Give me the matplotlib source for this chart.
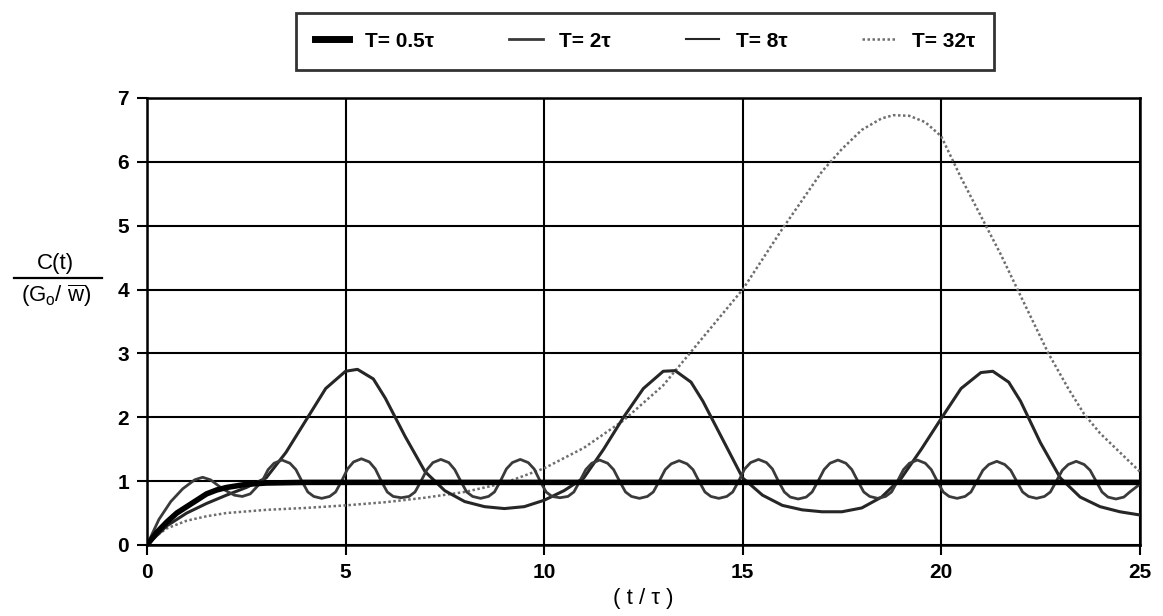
import matplotlib
matplotlib.use("Agg")
import matplotlib.pyplot as plt
from matplotlib.lines import Line2D

plt.rcParams['font.family'] = ['Liberation Sans', 'DejaVu Sans']
plt.rcParams['mathtext.fontset'] = 'custom'
plt.rcParams['mathtext.rm'] = 'Liberation Sans'
plt.rcParams['mathtext.it'] = 'Liberation Sans'

# T = 0.5 tau
t_05 = [0, 0.25, 0.5, 0.75, 1.0, 1.25, 1.5, 1.75, 2.0, 2.5, 3.0, 4.0, 25.0]
c_05 = [0, 0.2, 0.36, 0.5, 0.6, 0.7, 0.8, 0.86, 0.9, 0.95, 0.97, 0.98, 0.98]

# T = 2 tau (small wiggles)
t_2 = [0, 0.3, 0.6, 0.9, 1.2, 1.4, 1.6, 1.9, 2.2, 2.4, 2.6,
       2.9, 3.05, 3.2, 3.4, 3.6, 3.75, 3.9, 4.05, 4.2, 4.4, 4.6, 4.75,
       4.9, 5.05, 5.2, 5.4, 5.6, 5.75, 5.9, 6.05, 6.2, 6.4, 6.6, 6.75,
       6.9, 7.05, 7.2, 7.4, 7.6, 7.75, 7.9, 8.05, 8.2, 8.4, 8.6, 8.75,
       8.9, 9.05, 9.2, 9.4, 9.6, 9.75, 9.9, 10.05, 10.2, 10.4, 10.6, 10.75,
       10.9, 11.05, 11.2, 11.4, 11.6, 11.75, 11.9, 12.05, 12.2, 12.4, 12.6, 12.75,
       12.9, 13.05, 13.2, 13.4, 13.6, 13.75, 13.9, 14.05, 14.2, 14.4, 14.6, 14.75,
       14.9, 15.05, 15.2, 15.4, 15.6, 15.75, 15.9, 16.05, 16.2, 16.4, 16.6, 16.75,
       16.9, 17.05, 17.2, 17.4, 17.6, 17.75, 17.9, 18.05, 18.2, 18.4, 18.6, 18.75,
       18.9, 19.05, 19.2, 19.4, 19.6, 19.75, 19.9, 20.05, 20.2, 20.4, 20.6, 20.75,
       20.9, 21.05, 21.2, 21.4, 21.6, 21.75, 21.9, 22.05, 22.2, 22.4, 22.6, 22.75,
       22.9, 23.05, 23.2, 23.4, 23.6, 23.75, 23.9, 24.05, 24.2, 24.4, 24.6, 24.75,
       25.0]
c_2 = [0, 0.4, 0.68, 0.88, 1.02, 1.06, 1.02, 0.88, 0.78, 0.76, 0.8,
       1.0, 1.18, 1.28, 1.33, 1.28, 1.18, 1.0, 0.83, 0.76, 0.73, 0.76, 0.83,
       1.0, 1.19, 1.3, 1.35, 1.3, 1.19, 1.0, 0.83, 0.76, 0.74, 0.76, 0.83,
       1.0, 1.18, 1.29, 1.34, 1.29, 1.18, 1.0, 0.83, 0.76, 0.73, 0.76, 0.83,
       1.0, 1.19, 1.29, 1.34, 1.29, 1.19, 1.0, 0.83, 0.76, 0.74, 0.76, 0.83,
       1.0, 1.18, 1.28, 1.33, 1.28, 1.18, 1.0, 0.83, 0.76, 0.73, 0.76, 0.83,
       1.0, 1.18, 1.27, 1.32, 1.27, 1.18, 1.0, 0.83, 0.76, 0.73, 0.76, 0.83,
       1.0, 1.19, 1.29, 1.34, 1.29, 1.19, 1.0, 0.83, 0.75, 0.72, 0.75, 0.83,
       1.0, 1.18, 1.28, 1.33, 1.28, 1.18, 1.0, 0.83, 0.76, 0.73, 0.76, 0.83,
       1.0, 1.18, 1.28, 1.33, 1.28, 1.18, 1.0, 0.83, 0.76, 0.73, 0.76, 0.83,
       1.0, 1.17, 1.26, 1.31, 1.26, 1.17, 1.0, 0.83, 0.76, 0.73, 0.76, 0.83,
       1.0, 1.17, 1.26, 1.31, 1.26, 1.17, 1.0, 0.83, 0.75, 0.72, 0.75, 0.83,
       0.95]

# T = 8 tau (large peaks)
t_8 = [0, 0.5, 1, 1.5, 2, 2.5, 3, 3.5, 4, 4.5, 5, 5.3, 5.7, 6, 6.5, 7, 7.5,
       8, 8.5, 9, 9.5, 10, 10.5, 11, 11.5, 12, 12.5, 13, 13.3, 13.7, 14, 14.5,
       15, 15.5, 16, 16.5, 17, 17.5, 18, 18.5, 19, 19.5, 20, 20.5, 21, 21.3,
       21.7, 22, 22.5, 23, 23.5, 24, 24.5, 25]
c_8 = [0, 0.3, 0.5, 0.65, 0.78, 0.9, 1.05, 1.45, 1.95, 2.45, 2.72, 2.75, 2.6,
       2.3, 1.7, 1.15, 0.85, 0.68, 0.6, 0.57, 0.6, 0.7, 0.85, 1.05, 1.5, 2.0,
       2.45, 2.72, 2.73, 2.55, 2.25, 1.65, 1.05, 0.78, 0.62, 0.55, 0.52, 0.52,
       0.58, 0.75, 1.05, 1.5, 1.98, 2.45, 2.7, 2.72, 2.55, 2.25, 1.6, 1.05,
       0.75, 0.6, 0.52, 0.47]

# T = 32 tau (slow hump)
t_32 = [0, 0.25, 0.5, 1, 1.5, 2, 3, 4, 5, 6, 7, 8, 9, 10, 11, 12, 13, 13.6,
        14, 15, 16, 17, 17.5, 18, 18.5, 18.8, 19.2, 19.6, 20, 20.5, 21, 21.5,
        22, 22.7, 23.2, 23.6, 24, 24.5, 25]
c_32 = [0, 0.15, 0.26, 0.38, 0.45, 0.5, 0.55, 0.58, 0.62, 0.67, 0.74, 0.83,
        0.97, 1.2, 1.52, 1.95, 2.5, 2.95, 3.25, 4.0, 4.95, 5.85, 6.2, 6.5,
        6.68, 6.73, 6.72, 6.62, 6.4, 5.75, 5.15, 4.55, 3.9, 3.0, 2.45, 2.05,
        1.75, 1.45, 1.15]

labels = ['T= 0.5τ', 'T= 2τ', 'T= 8τ', 'T= 32τ']

fig = plt.figure(figsize=(11.63, 6.16), dpi=100)
ax = fig.add_axes([0.1264, 0.1153, 0.8536, 0.7257])

ax.plot(t_32, c_32, color='#6e6e6e', lw=1.8, ls=(0, (1, 1)), zorder=3)
ax.plot(t_8, c_8, color='#262626', lw=2.2, zorder=4)
ax.plot(t_2, c_2, color='#3a3a3a', lw=2.0, zorder=5)
ax.plot(t_05, c_05, color='black', lw=4, zorder=6)

ax.set_xlim(0, 25)
ax.set_ylim(0, 7)
ax.set_xticks([0, 5, 10, 15, 20, 25])
ax.set_yticks(range(0, 8))
ax.grid(True, color='black', lw=1.5)
ax.set_axisbelow(True)
for s in ax.spines.values():
    s.set_linewidth(1.8)
ax.tick_params(direction='out', length=7, width=1.5, labelsize=15, pad=6)
for lab in ax.get_xticklabels() + ax.get_yticklabels():
    lab.set_fontweight('bold')

ax.set_xlabel('( t / τ )', fontsize=16, labelpad=4)

# fraction style y label
fig.text(0.048, 0.555, 'C(t)', fontsize=16, ha='center', va='bottom')
fig.add_artist(Line2D([0.012, 0.088], [0.549, 0.549], color='black', lw=1.6))
fig.text(0.048, 0.542, r'$(G_o /\ \overline{w})$', fontsize=16, ha='center', va='top')

handles = [
    Line2D([], [], color='black', lw=5),
    Line2D([], [], color='#3a3a3a', lw=2),
    Line2D([], [], color='#262626', lw=1.5),
    Line2D([], [], color='#6e6e6e', lw=1.8, ls=(0, (1, 1))),
]
leg = fig.legend(handles, labels, loc='center', bbox_to_anchor=(0.555, 0.933),
                 ncol=4, frameon=True, fancybox=False, handlelength=1.6,
                 columnspacing=3.6, handletextpad=0.8, borderpad=0.9,
                 prop={'weight': 'bold', 'size': 15})
leg.get_frame().set_edgecolor('black')
leg.get_frame().set_linewidth(2)

fig.savefig('out.png', dpi=100)
